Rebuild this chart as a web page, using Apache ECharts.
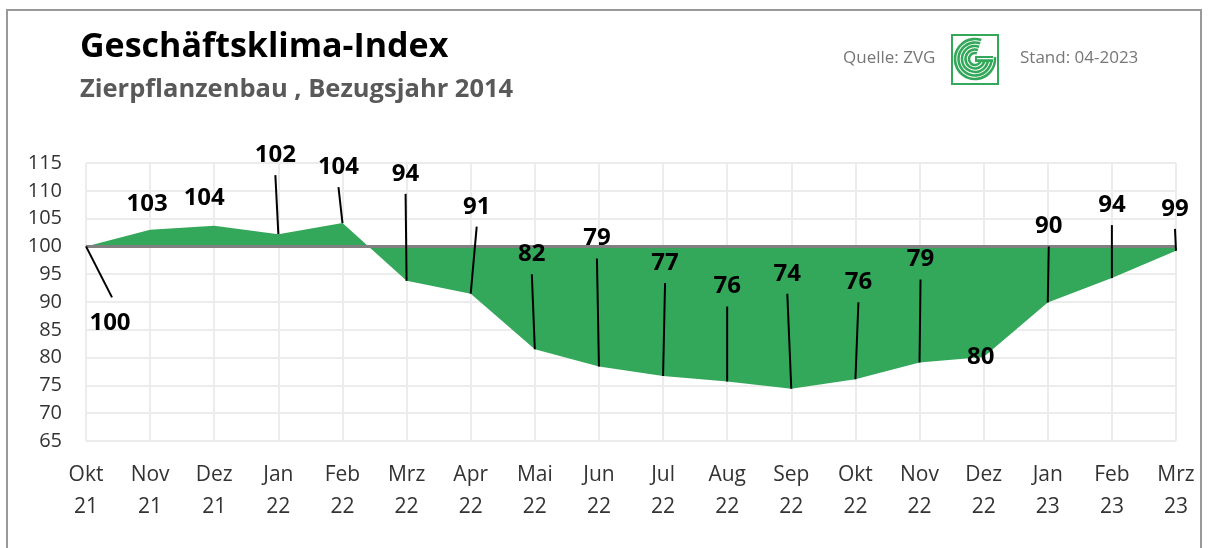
<!DOCTYPE html>
<html><head><meta charset="utf-8">
<script src="https://cdn.jsdelivr.net/npm/echarts@6/dist/echarts.min.js"></script>
<style>html,body{margin:0;padding:0;background:#fff}#c{width:1208px;height:548px}</style>
</head><body><div id="c"></div>
<script>
// ---- data ----
const months = ['Okt','Nov','Dez','Jan','Feb','Mrz','Apr','Mai','Jun','Jul','Aug','Sep','Okt','Nov','Dez','Jan','Feb','Mrz'];
const years  = ['21','21','21','22','22','22','22','22','22','22','22','22','22','22','22','23','23','23'];
const values = [100, 103.0, 103.7, 102.2, 104.2, 93.8, 91.5, 81.5, 78.4, 76.7, 75.7, 74.4, 76.1, 79.1, 80.1, 89.9, 94.3, 99.2];
const valueLabels = ['100','103','104','102','104','94','91','82','79','77','76','74','76','79','80','90','94','99'];
const baseline = 100;
const yMin = 65, yMax = 115, yStep = 5;

// ---- label layout (style, not data) ----
const labelOffsets = [[24,77],[-3,-26],[-10,-28],[-3,-79],[-4,-56],[-1,-107],[6,-87],[-3,-95],[-2,-128],[2,-113],[0,-95],[-4,-115],[3,-97],[1,-103],[-3,0],[1,-76],[0,-73],[-1,-42]];
const hasLeader = [1,0,0,1,1,1,1,1,1,1,1,1,1,1,0,1,1,1];

const GREEN = '#34a85a';
const FONT = '"Open Sans", "Noto Sans", sans-serif';

const chart = echarts.init(document.getElementById('c'), null, {renderer:'canvas'});

// logo pieces
const lcx = 975, lcy = 59;
const logoChildren = [
  {type:'rect', shape:{x:952, y:35, width:46, height:49}, style:{fill:'#fff', stroke:GREEN, lineWidth:2}}
];
[20,16.5,13,9.5,6].forEach(r => {
  logoChildren.push({type:'arc', shape:{cx:lcx, cy:lcy, r:r, startAngle:-0.1, endAngle:-1.25, clockwise:true}, style:{stroke:GREEN, lineWidth:2.6, fill:null}});
});
logoChildren.push({type:'rect', shape:{x:lcx, y:lcy-3, width:18, height:6}, style:{fill:GREEN}});
logoChildren.push({type:'rect', shape:{x:lcx+2, y:lcy-1, width:16, height:1.2}, style:{fill:'#fff'}});

const option = {
  animation: false,
  backgroundColor: '#fff',
  textStyle: {fontFamily: FONT},
  graphic: [
    {type:'polyline', shape:{points:[[7,560],[7,10],[1201,10],[1201,560]]}, style:{stroke:'#999', lineWidth:2, fill:null}, z:0},
    {type:'text', left:80, top:30, style:{text:'Geschäftsklima-Index', font:'bold 34px '+FONT, fill:'#000'}},
    {type:'text', left:80, top:77, style:{text:'Zierpflanzenbau , Bezugsjahr 2014', font:'bold 25.5px '+FONT, fill:'#595959'}},
    {type:'text', left:843, top:50, style:{text:'Quelle: ZVG', font:'17px '+FONT, fill:'#777'}},
    {type:'text', left:1020, top:50, style:{text:'Stand: 04-2023', font:'17px '+FONT, fill:'#777'}},
    {type:'group', children: logoChildren}
  ],
  grid: {left:86, right:32, top:163, bottom:107, containLabel:false},
  xAxis: {
    type:'category',
    data: months.map((m,i) => m + '\n' + years[i]),
    boundaryGap:false,
    axisLine:{show:false}, axisTick:{show:false},
    splitLine:{show:true, lineStyle:{color:'#ececec', width:2}},
    axisLabel:{color:'#333', fontSize:21, lineHeight:32, margin:18, interval:0, fontFamily:FONT}
  },
  yAxis: {
    type:'value', min:yMin, max:yMax, interval:yStep,
    axisLine:{show:false}, axisTick:{show:false},
    splitLine:{show:true, lineStyle:{color:'#ececec', width:2}},
    axisLabel:{color:'#333', fontSize:20, margin:24, fontFamily:FONT}
  },
  series: [
    {
      type:'line', data: values, symbol:'none',
      lineStyle:{width:0},
      areaStyle:{color:GREEN, opacity:1, origin: baseline},
      z:2,
      markLine:{silent:true, symbol:['none','none'], label:{show:false},
        lineStyle:{color:'#808080', width:3, type:'solid'},
        data:[{yAxis: baseline}]}
    },
    {
      type:'custom', z:5,
      data: values.map((v,i) => [i, v]),
      renderItem: function(params, api) {
        const i = params.dataIndex;
        const p = api.coord([api.value(0), api.value(1)]);
        const off = labelOffsets[i];
        const lx = p[0] + off[0], ly = p[1] + off[1];
        const children = [];
        if (hasLeader[i]) {
          const ex = lx + (off[1] > 0 ? 2 : 0);
          const ey = ly + (off[1] > 0 ? -26 : 20);
          children.push({type:'line', shape:{x1:p[0], y1:p[1], x2:ex, y2:ey}, style:{stroke:'#000', lineWidth:2}});
        }
        children.push({type:'text', x:lx, y:ly, style:{text:valueLabels[i], font:'bold 24px '+FONT, fill:'#000', align:'center', verticalAlign:'middle'}});
        return {type:'group', children: children};
      }
    }
  ]
};
chart.setOption(option);
</script></body></html>
